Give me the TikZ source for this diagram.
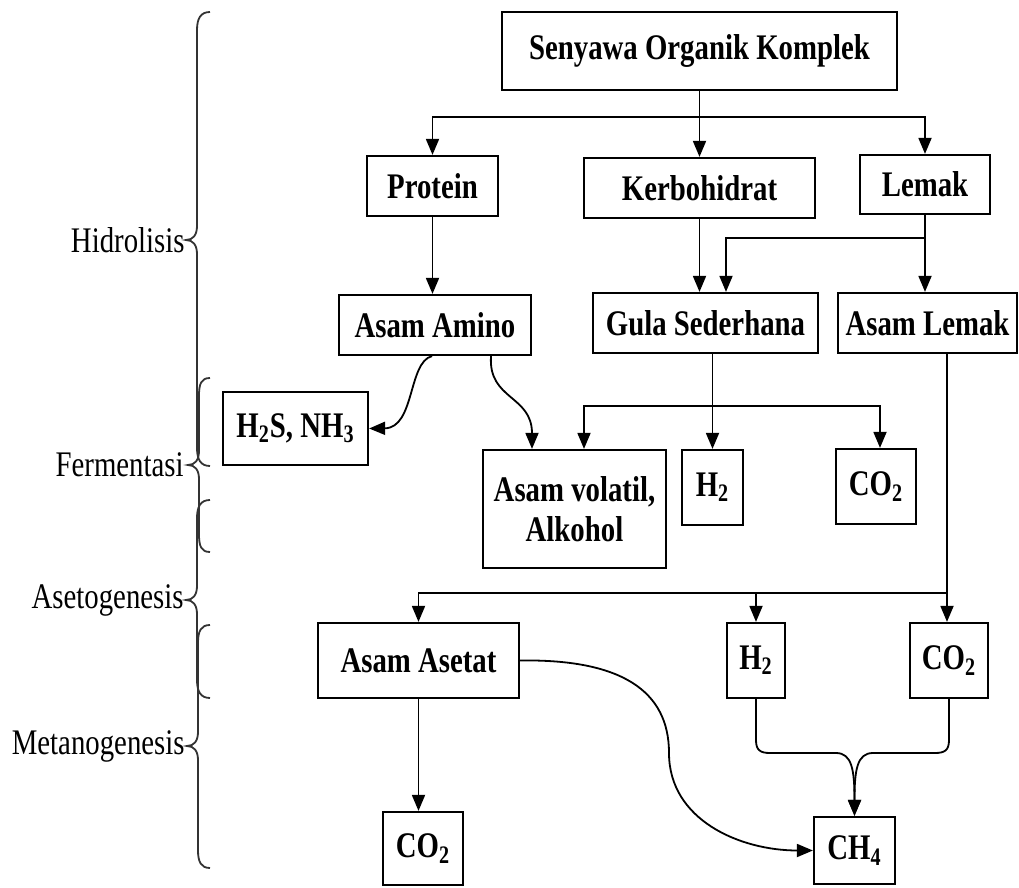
\documentclass[tikz,border=0pt]{standalone}
\usepackage{fontspec}
\setmainfont{Liberation Serif}[FakeStretch=0.8]
\usetikzlibrary{arrows.meta}
\newcommand{\mybrace}[4]{\draw[bracestyle] (210,#1) .. controls (201,#1) and (#4,#1+6) .. (#4,#1+18) -- (#4,#2-14) .. controls (#4,#2-5) and (#4-4,#2) .. (#4-11,#2) .. controls (#4-4,#2) and (#4,#2+5) .. (#4,#2+14) -- (#4,#3-18) .. controls (#4,#3-6) and (201,#3) .. (210,#3);}
\begin{document}
\begin{tikzpicture}[x=0.5pt,y=-0.5pt,
  box/.style={draw, line width=1.1pt, inner sep=0pt, align=center, font=\fontsize{18}{20}\selectfont\bfseries},
  lab/.style={anchor=east, inner sep=0pt, font=\fontsize{18}{20}\selectfont},
  arr/.style={-{Triangle[length=8pt,width=6.5pt]}, line width=0.9pt},
  ln/.style={line width=0.9pt},
  bracestyle/.style={line width=0.9pt, black!80}]
\useasboundingbox (0,0) rectangle (1019,888);

% nodes
\node[box, minimum width=197.5pt, minimum height=39pt] (top) at (699.5,51) {Senyawa Organik Komplek};
\node[box, minimum width=65.5pt, minimum height=30pt] (prot) at (432.5,186) {Protein};
\node[box, minimum width=115.5pt, minimum height=30pt] (kerb) at (699.5,188) {Kerbohidrat};
\node[box, minimum width=65pt, minimum height=29.5pt] (lemak) at (925,184.5) {Lemak};
\node[box, minimum width=96pt, minimum height=30pt] (amino) at (435,325) {Asam Amino};
\node[box, minimum width=112.5pt, minimum height=30pt] (gula) at (705.5,323) {Gula Sederhana};
\node[box, minimum width=89.5pt, minimum height=30pt] (alemak) at (927.5,323) {Asam Lemak};
\node[box, minimum width=72.5pt, minimum height=36.5pt] (h2s) at (295.5,428.5) {H\textsubscript{2}S, NH\textsubscript{3}};
\node[box, minimum width=91.5pt, minimum height=59pt] (volatil) at (574.5,509) {Asam volatil,\\Alkohol};
\node[box, minimum width=30.5pt, minimum height=37.5pt] (h2a) at (712.5,487.5) {H\textsubscript{2}};
\node[box, minimum width=40pt, minimum height=37.5pt] (co2a) at (876,486.5) {CO\textsubscript{2}};
\node[box, minimum width=100.5pt, minimum height=37.5pt] (asetat) at (418.5,660.5) {Asam Asetat};
\node[box, minimum width=29pt, minimum height=37.5pt] (h2b) at (756,660.5) {H\textsubscript{2}};
\node[box, minimum width=39pt, minimum height=37.5pt] (co2b) at (949,660.5) {CO\textsubscript{2}};
\node[box, minimum width=40pt, minimum height=36.5pt] (co2c) at (423,848.5) {CO\textsubscript{2}};
\node[box, minimum width=40.5pt, minimum height=33.5pt] (ch4) at (854.5,850.5) {CH\textsubscript{4}};

% junctions
\coordinate (j1) at (699.5,117);
\coordinate (j2) at (925,238);
\coordinate (j3) at (712.5,406);
\coordinate (j4) at (947,593);

% hydrolysis
\draw[ln] (top.south) -- (j1);
\draw[arr] (j1) -| (prot.north);
\draw[arr] (j1) -- (kerb.north);
\draw[arr] (j1) -| (lemak.north);
\draw[arr] (prot.south) -- (prot.south |- amino.north);
\draw[arr] (kerb.south) -- (kerb.south |- gula.north);
\draw[ln] (lemak.south) -- (j2);
\draw[arr] (j2) -| ([xshift=10.25pt]gula.north);
\draw[arr] (j2) -- (j2 |- alemak.north);

% fermentation
\draw[arr] ([xshift=-1.5pt]amino.south) .. controls (408,362) and (415,428) .. (h2s.east);
\draw[arr] ([xshift=28pt]amino.south) .. controls (488,400) and (532,395) .. ([xshift=-21.25pt]volatil.north);
\draw[arr] (h2a.north |- gula.south) -- (h2a.north);
\draw[arr] (j3) -| ([xshift=4.75pt]volatil.north);
\draw[arr] (j3) -| ([xshift=2pt]co2a.north);

% acetogenesis
\draw[ln] (j4 |- alemak.south) -- (j4);
\draw[arr] (j4) -| (asetat.north);
\draw[arr] (j4) -| (h2b.north);
\draw[arr] (j4) -- (j4 |- co2b.north);

% methanogenesis
\draw[arr] (asetat.south) -- (asetat.south |- co2c.north);
\draw[arr] (asetat.east) .. controls (620,659) and (669,690) .. (669,753) .. controls (669,820) and (740,850.5) .. (ch4.west);
\draw[arr] (h2b.south) -- (756,740) .. controls (756,750) and (760,753) .. (770,753) -- (836,753) .. controls (852,753) and (854.5,770) .. (ch4.north);
\draw[arr] (co2b.south) -- (949,740) .. controls (949,750) and (945,753) .. (935,753) -- (873,753) .. controls (857,753) and (854.5,770) .. (ch4.north);

% braces
\mybrace{12}{240}{466}{197}
\mybrace{378}{465}{552}{199}
\mybrace{500}{600}{698}{197}
\mybrace{625}{746}{868}{198}

% stage labels
\node[lab] (l1) at (185,240) {Hidrolisis};
\node[lab] (l2) at (184,465) {Fermentasi};
\node[lab] (l3) at (184,600) {Asetogenesis};
\node[lab] (l4) at (185,746) {Metanogenesis};
\end{tikzpicture}
\end{document}
